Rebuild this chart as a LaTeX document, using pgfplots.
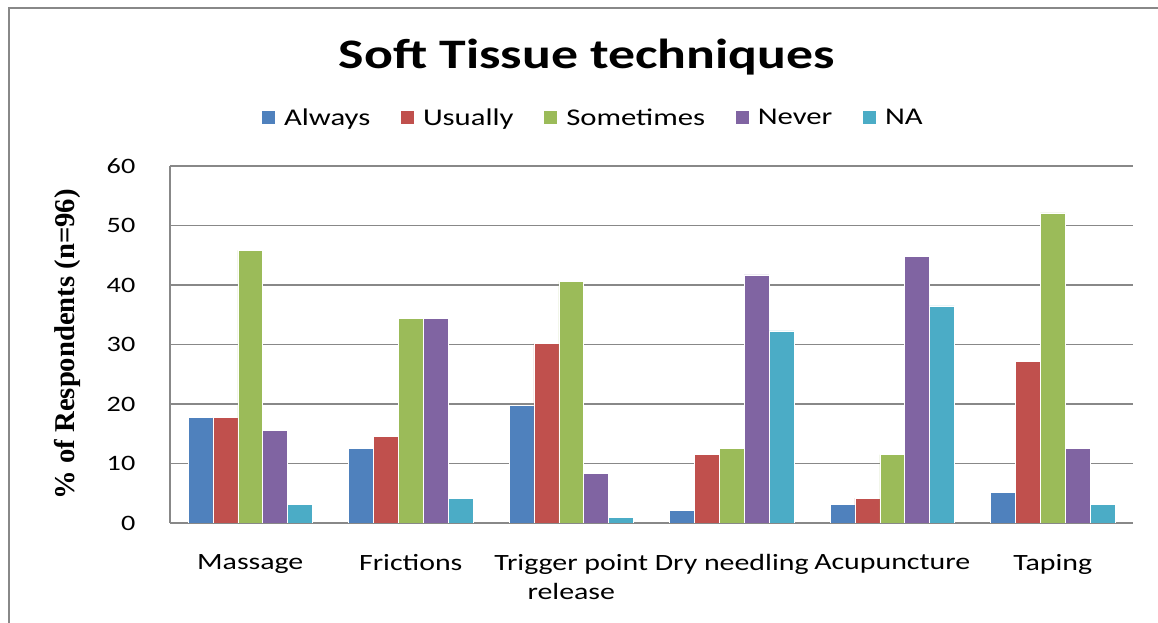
\documentclass[border=0pt]{standalone}
\usepackage{pgfplots}
\pgfplotsset{compat=1.18}
\usepackage{fontspec}
\setmainfont{Carlito}[FakeStretch=1.28]
\newfontfamily\ylabfont{Liberation Serif}
\definecolor{cA}{HTML}{4F81BD}
\definecolor{cU}{HTML}{C0504D}
\definecolor{cS}{HTML}{9BBB59}
\definecolor{cN}{HTML}{8064A2}
\definecolor{cNA}{HTML}{4BACC6}
\definecolor{gridc}{HTML}{888888}
\begin{document}
\begin{tikzpicture}
\useasboundingbox (0,0) rectangle (868.5pt,467.25pt);
\draw[gridc, line width=1.5pt] (6.4pt,0pt) -- (6.4pt,461pt) -- (868.5pt,461pt);
\node[anchor=base, font=\fontsize{31.5}{36}\selectfont\bfseries] at (440.25pt,415.5pt) {Soft Tissue techniques};
\node[rotate=90, font=\fontsize{21.5}{24}\selectfont\ylabfont\bfseries] at (50.5pt,209pt) {\% of Respondents (n=96)};
\begin{axis}[
  at={(127.5pt,75pt)}, anchor=south west,
  width=722.25pt, height=267.75pt, scale only axis,
  xmin=-0.5, xmax=5.5, ymin=0, ymax=60,
  ytick={0,10,...,60},
  xtick={0,...,5},
  xticklabels={Massage,Frictions,{Trigger point\\release},Dry needling,Acupuncture,Taping},
  major tick length=0pt,
  axis x line*=bottom, axis y line*=left,
  axis line style={gridc, line width=0.8pt, -},
  ymajorgrids, grid style={gridc, line width=0.8pt},
  /pgf/number format/assume math mode=true,
  tick label style={font=\fontsize{16.5}{20}\selectfont},
  yticklabel style={anchor=east, xshift=-22.5pt},
  xticklabel style={align=center, anchor=north, yshift=-20pt, font=\fontsize{17.5}{21.5}\selectfont},
  ybar=0pt, bar width=0.155,
  legend columns=5,
  legend style={at={(0.44,1.134)}, anchor=center, draw=none, fill=none,
    font=\fontsize{18}{21}\selectfont,
    /tikz/every odd column/.append style={column sep=5pt},
    /tikz/every even column/.append style={column sep=21pt}},
  legend image code/.code={\fill[#1,draw=none] (0pt,-4.5pt) rectangle (9.5pt,5pt);},
  every axis plot/.append style={draw=white, line width=0.4pt},
]
\addplot[fill=cA] coordinates {(0,17.7) (1,12.5) (2,19.8) (3,2.1) (4,3.1) (5,5.2)};
\addplot[fill=cU] coordinates {(0,17.7) (1,14.6) (2,30.2) (3,11.5) (4,4.2) (5,27.1)};
\addplot[fill=cS] coordinates {(0,45.8) (1,34.4) (2,40.6) (3,12.5) (4,11.5) (5,52.1)};
\addplot[fill=cN] coordinates {(0,15.6) (1,34.4) (2,8.3) (3,41.7) (4,44.8) (5,12.5)};
\addplot[fill=cNA] coordinates {(0,3.1) (1,4.2) (2,1.0) (3,32.3) (4,36.5) (5,3.1)};
\legend{Always,Usually,Sometimes,Never,NA}
\end{axis}
\end{tikzpicture}
\end{document}
